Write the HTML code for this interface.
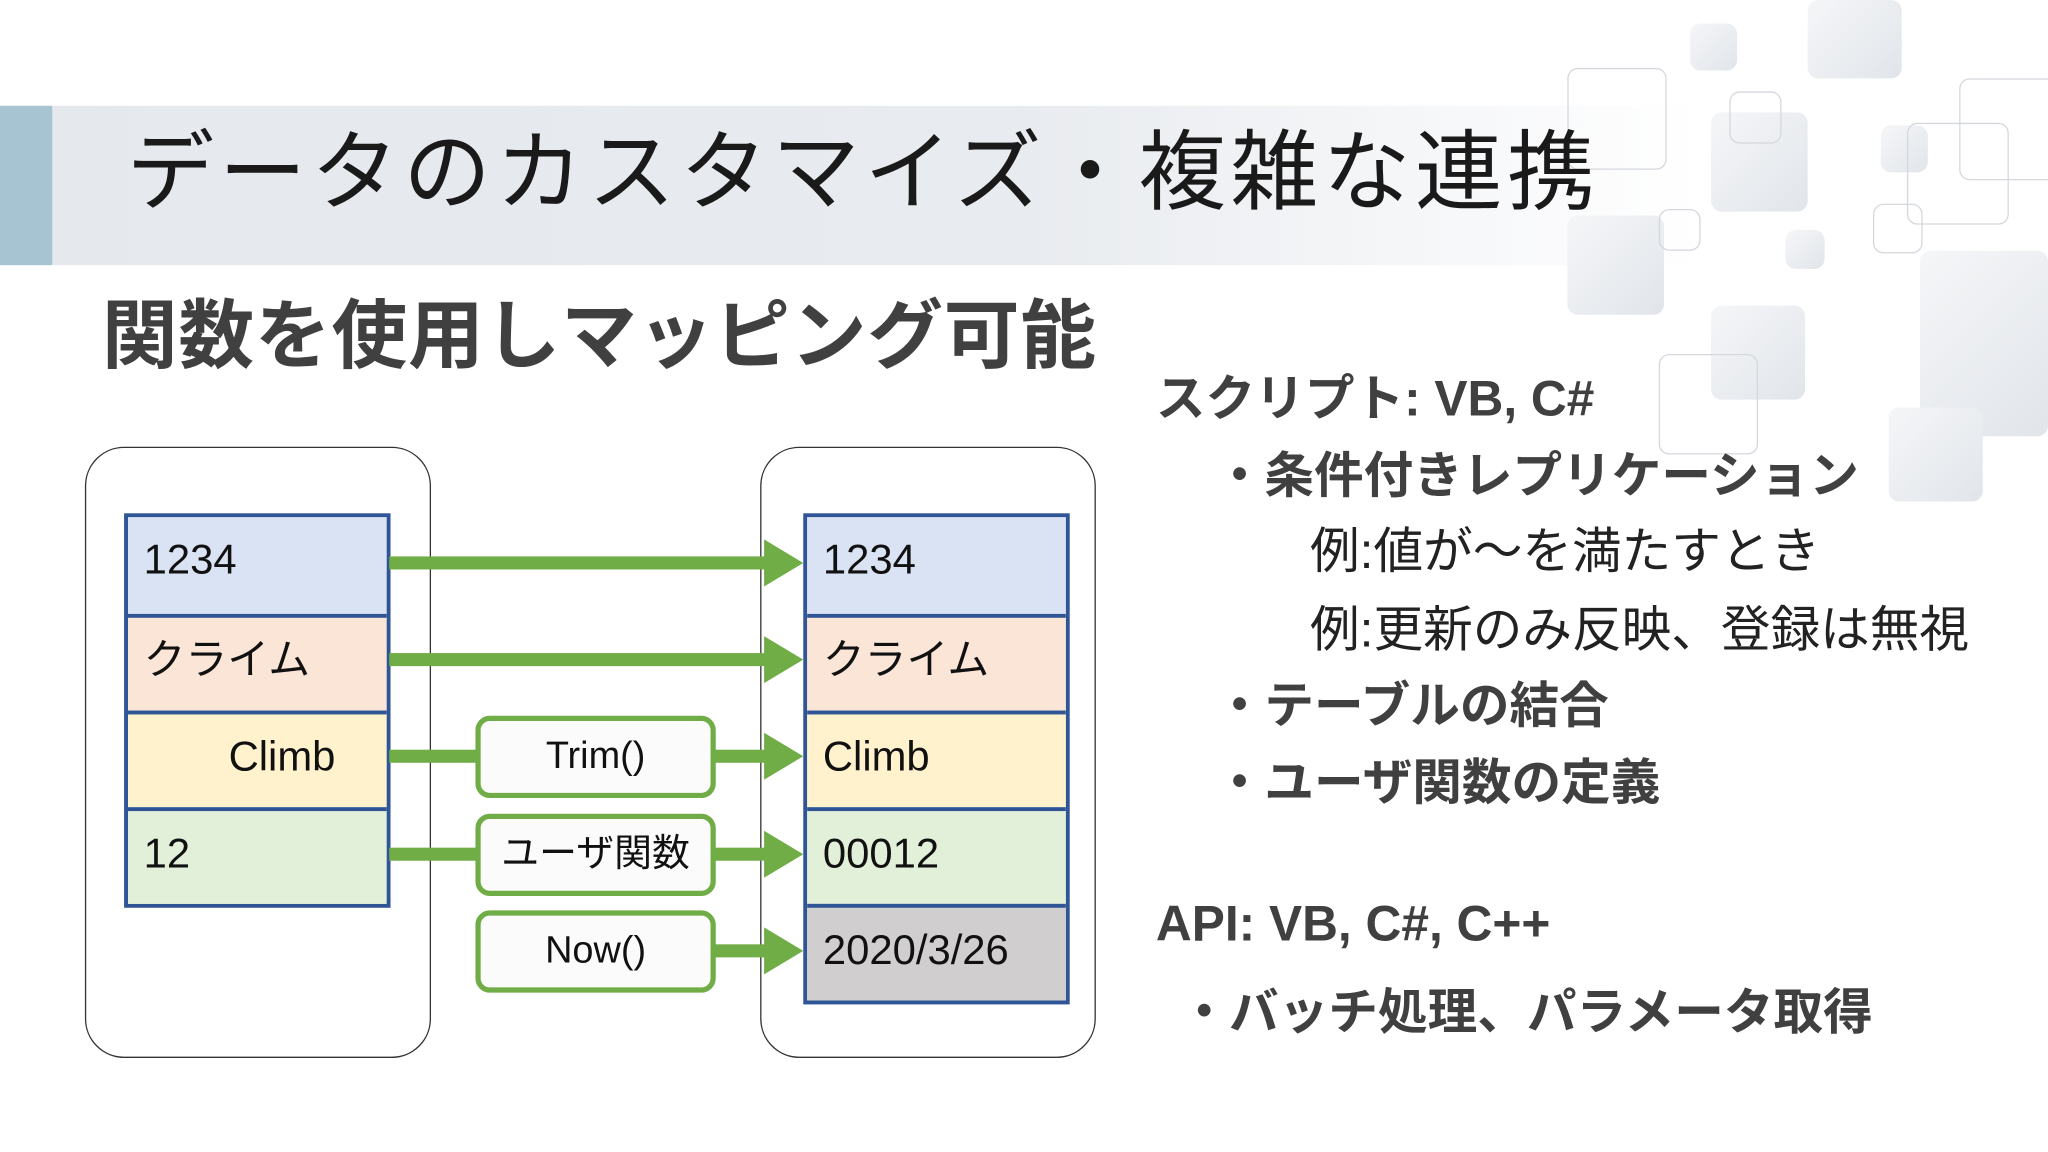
<!DOCTYPE html>
<html><head><meta charset="utf-8"><style>
html,body{margin:0;padding:0;width:2048px;height:1152px;overflow:hidden;background:#fff}
#s{position:absolute;left:0;top:0;width:1568px;height:882px;transform:scale(1.306122);transform-origin:0 0;font-family:"Liberation Sans","Noto Sans CJK JP",sans-serif;}
.a{position:absolute;white-space:nowrap}
.sq{position:absolute;border-radius:8px;background:linear-gradient(135deg,#f5f6f8,#e1e5ea)}
.ol{position:absolute;border-radius:8px;border:1.5px solid #d4d8dd}
.cont{position:absolute;border:1.3px solid #333;border-radius:30px;background:#fff}
.tb{position:absolute;border:3px solid #2f5597}
.c{position:absolute;left:0;right:0;height:74px;border-top:3px solid #2f5597;font-size:32px;line-height:64px;padding-left:12px;color:#111;box-sizing:border-box}
.c:first-child{border-top:none}
.ar{position:absolute;height:10px;background:#70ad47}
.hd{position:absolute;width:0;height:0;border-top:18px solid transparent;border-bottom:18px solid transparent;border-left:30px solid #70ad47}
.fn{position:absolute;left:364px;width:176px;height:55px;border:4px solid #70ad47;border-radius:11px;background:#fbfbfb;text-align:center;font-size:29px;line-height:55px;color:#111}
.r{position:absolute;white-space:nowrap;font-size:38px;color:#404040;font-weight:bold}
.rn{font-weight:normal;color:#222}
</style></head><body><div id="s">
<div class="a" style="left:0;top:81px;width:1300px;height:122px;background:linear-gradient(90deg,#e5e9ee 0%,#e8ebef 60%,rgba(240,242,245,0.4) 90%,rgba(255,255,255,0) 100%)"></div>
<div class="a" style="left:0;top:81px;width:40px;height:122px;background:#a7c4d3"></div>
<div class="sq" style="left:1294px;top:18px;width:36px;height:36px"></div>
<div class="sq" style="left:1384px;top:0;width:72px;height:60px"></div>
<div class="sq" style="left:1310px;top:86px;width:74px;height:76px"></div>
<div class="sq" style="left:1200px;top:165px;width:74px;height:76px"></div>
<div class="sq" style="left:1367px;top:176px;width:30px;height:30px"></div>
<div class="sq" style="left:1440px;top:96px;width:36px;height:36px"></div>
<div class="sq" style="left:1470px;top:192px;width:98px;height:142px"></div>
<div class="sq" style="left:1310px;top:234px;width:72px;height:72px"></div>
<div class="sq" style="left:1446px;top:312px;width:72px;height:72px"></div>
<div class="ol" style="left:1200px;top:52px;width:74px;height:76px"></div>
<div class="ol" style="left:1324px;top:70px;width:38px;height:38px"></div>
<div class="ol" style="left:1270px;top:160px;width:30px;height:30px"></div>
<div class="ol" style="left:1500px;top:60px;width:80px;height:76px"></div>
<div class="ol" style="left:1460px;top:94px;width:76px;height:76px"></div>
<div class="ol" style="left:1434px;top:156px;width:36px;height:36px"></div>
<div class="ol" style="left:1270px;top:271px;width:74px;height:75px"></div>
<div class="a" style="left:97px;top:90px;font-size:67px;line-height:86px;color:#1a1a1a;letter-spacing:3.6px">データのカスタマイズ・複雑な連携</div>
<div class="a" style="left:78px;top:220px;font-size:58px;line-height:76px;color:#404040;font-weight:bold;letter-spacing:0.6px">関数を使用しマッピング可能</div>
<div class="cont" style="left:65px;top:342px;width:263px;height:466px"></div>
<div class="cont" style="left:582px;top:342px;width:255px;height:466px"></div>
<div class="tb" style="left:95px;top:393px;width:198px;height:296px">
<div class="c" style="top:0;background:#dae3f3">1234</div>
<div class="c" style="top:74px;background:#fbe5d6">クライム</div>
<div class="c" style="top:148px;background:#fff2cc;padding-left:77px">Climb</div>
<div class="c" style="top:222px;background:#e2f0d9">12</div>
</div>
<div class="tb" style="left:615px;top:393px;width:198px;height:370px">
<div class="c" style="top:0;background:#dae3f3">1234</div>
<div class="c" style="top:74px;background:#fbe5d6">クライム</div>
<div class="c" style="top:148px;background:#fff2cc">Climb</div>
<div class="c" style="top:222px;background:#e2f0d9">00012</div>
<div class="c" style="top:296px;background:#d0cece">2020/3/26</div>
</div>
<div class="ar" style="left:298px;top:426px;width:290px"></div><div class="hd" style="left:585px;top:413px"></div>
<div class="ar" style="left:298px;top:500px;width:290px"></div><div class="hd" style="left:585px;top:487px"></div>
<div class="ar" style="left:298px;top:574px;width:70px"></div><div class="ar" style="left:545px;top:574px;width:43px"></div><div class="hd" style="left:585px;top:561px"></div>
<div class="ar" style="left:298px;top:649px;width:70px"></div><div class="ar" style="left:545px;top:649px;width:43px"></div><div class="hd" style="left:585px;top:636px"></div>
<div class="ar" style="left:545px;top:723px;width:43px"></div><div class="hd" style="left:585px;top:710px"></div>
<div class="fn" style="top:548px">Trim()</div>
<div class="fn" style="top:623px">ユーザ関数</div>
<div class="fn" style="top:697px">Now()</div>
<div class="r" style="left:885px;top:274px">スクリプト: VB, C#</div>
<div class="r" style="left:930px;top:333px">・条件付きレプリケーション</div>
<div class="r rn" style="left:1003px;top:391px">例:値が～を満たすとき</div>
<div class="r rn" style="left:1003px;top:451px">例:更新のみ反映、登録は無視</div>
<div class="r" style="left:930px;top:509px">・テーブルの結合</div>
<div class="r" style="left:930px;top:568px">・ユーザ関数の定義</div>
<div class="r" style="left:885px;top:687px">API: VB, C#, C++</div>
<div class="r" style="left:903px;top:744px">・バッチ処理、パラメータ取得</div>
</div></body></html>
